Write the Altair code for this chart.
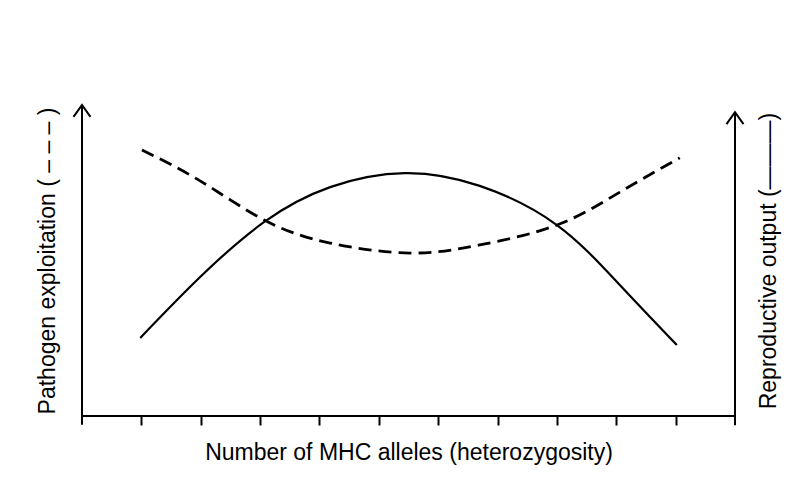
import altair as alt
import pandas as pd

# Curve values (x: number of MHC alleles, arbitrary units)
SOLID_X = [0.98, 1.99, 3.07, 4.18, 5.44, 6.70, 8.00, 9.06, 10.02]
SOLID_Y = [2.51, 4.47, 6.24, 7.36, 7.81, 7.40, 6.14, 4.21, 2.28]

DASH_X = [1.01, 1.99, 3.07, 4.18, 5.53, 6.70, 8.00, 9.06, 10.07]
DASH_Y = [8.55, 7.56, 6.30, 5.56, 5.24, 5.50, 6.14, 7.20, 8.30]

TICKS = [1, 2, 3, 4, 5, 6, 7, 8, 9, 10]

# axis frame (in data units)
AX_X = [0, 11, 0]
AX_X2 = [0, 11, 11]
AX_Y = [-0.28, -0.30, 0]
AX_Y2 = [10, 9.77, 0]
ARROW_X = [0, 11]
ARROW_Y = [10, 9.77]

XDOM = [0, 11]
YDOM = [0, 10]
FONT = "Liberation Sans"

solid = pd.DataFrame({"x": SOLID_X, "y": SOLID_Y})
dashed = pd.DataFrame({"x": DASH_X, "y": DASH_Y})
frame = pd.DataFrame({"x": AX_X, "x2": AX_X2, "y": AX_Y, "y2": AX_Y2})
arrows = pd.DataFrame({"x": ARROW_X, "y": ARROW_Y})

xs = alt.Scale(domain=XDOM, nice=False, zero=False)
ys = alt.Scale(domain=YDOM, nice=False, zero=False)

x_axis = alt.Axis(
    values=TICKS, labels=False, domain=False, grid=False,
    tickSize=9, tickWidth=2, tickColor="black",
    title="Number of MHC alleles (heterozygosity)",
    titleFont=FONT, titleFontSize=23, titleFontWeight="normal",
    titleColor="black", titlePadding=15,
)

dash_layer = alt.Chart(dashed).mark_line(
    color="black", strokeWidth=2.8, strokeDash=[13, 7], interpolate="natural"
).encode(
    x=alt.X("x:Q", scale=xs, axis=x_axis),
    y=alt.Y("y:Q", scale=ys, axis=alt.Axis(
        title="Pathogen exploitation ( – – – )", domain=False, ticks=False,
        labels=False, grid=False, titleFont=FONT, titleFontSize=23,
        titleFontWeight="normal", titleColor="black", titlePadding=23,
    )),
)

solid_layer = alt.Chart(solid).mark_line(
    color="black", strokeWidth=2.2, interpolate="natural"
).encode(
    x=alt.X("x:Q", scale=xs, axis=None),
    y=alt.Y("y:Q", scale=ys, axis=alt.Axis(
        orient="right", title="Reproductive output (———)", domain=False,
        ticks=False, labels=False, grid=False, titleFont=FONT,
        titleFontSize=23, titleFontWeight="normal", titleColor="black",
        titleAngle=270, titleBaseline="top", titlePadding=22,
    )),
)

frame_layer = alt.Chart(frame).mark_rule(color="black", strokeWidth=2).encode(
    x=alt.X("x:Q", scale=xs, axis=None),
    x2="x2:Q",
    y=alt.Y("y:Q", scale=ys, axis=None),
    y2="y2:Q",
)

arrow_layer = alt.Chart(arrows).mark_point(
    shape="M -1 1.4 L 0 0 L 1 1.4", filled=False, size=289,
    strokeWidth=2, color="black", opacity=1,
).encode(
    x=alt.X("x:Q", scale=xs, axis=None),
    y=alt.Y("y:Q", scale=ys, axis=None),
)

chart = alt.layer(dash_layer, solid_layer, frame_layer, arrow_layer).resolve_scale(
    x="independent", y="independent"
).properties(
    width=653, height=311,
    autosize=alt.AutoSizeParams(type="none"),
    padding={"left": 74, "top": 97, "right": 68, "bottom": 53},
    background="white",
).configure_view(strokeWidth=0)

chart.save("out.html", embed_options={"renderer": "svg", "actions": False})
